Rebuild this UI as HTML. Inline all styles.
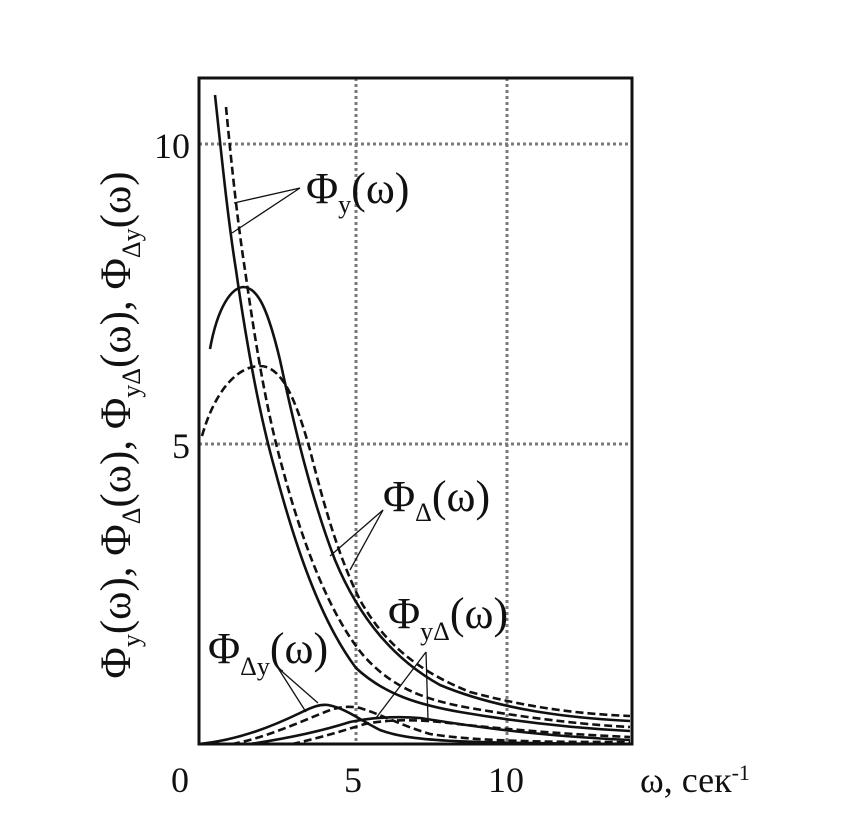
<!DOCTYPE html>
<html><head><meta charset="utf-8"><style>
html,body{margin:0;padding:0;background:#fff;}
svg{display:block;}
text{font-family:"Liberation Serif","DejaVu Serif",serif;fill:#111;}
</style></head><body>
<svg width="847" height="835" viewBox="0 0 847 835" xmlns="http://www.w3.org/2000/svg">
<rect x="0" y="0" width="847" height="835" fill="#fff"/>
<g stroke="#7a7a7a" stroke-width="3" stroke-dasharray="3,3">
<line x1="199" y1="144" x2="632" y2="144"/>
<line x1="199" y1="444" x2="632" y2="444"/>
<line x1="356" y1="78" x2="356" y2="744"/>
<line x1="507" y1="78" x2="507" y2="744"/>
</g>
<rect x="199" y="78" width="433" height="666" fill="none" stroke="#111" stroke-width="3"/>
<g fill="none" stroke="#111" stroke-width="2.6">
<path d="M215,95 C222,160 228,220 236,270 C246,340 258,410 275,470 C295,545 320,620 356,668 C385,695 420,705 460,712 C530,724 590,729 630,731"/>
<path stroke-dasharray="8,4" d="M226,107 C232,170 238,225 245,270 C255,340 266,410 283,470 C303,545 330,615 363,655 C392,688 425,700 470,708 C540,720 590,725 630,727"/>
<path d="M210,349 C218,305 232,288 243,287 C258,287 268,310 280,360 C295,430 312,500 335,560 C360,620 395,660 440,685 C500,710 570,718 630,721"/>
<path stroke-dasharray="8,4" d="M202,436 C215,390 238,366 260,366 C282,366 296,400 310,450 C325,510 340,560 360,600 C385,645 420,672 470,692 C530,708 580,714 630,716"/>
<path d="M199,744 C240,740 275,725 300,713 C312,707 320,704 328,705 C345,708 360,720 380,730 C410,741 450,743 630,744"/>
<path stroke-dasharray="8,4" d="M232,744 C265,738 300,722 325,712 C340,706 350,706 360,708 C380,714 400,725 430,734 C480,742 560,742 630,742"/>
<path d="M250,744 C290,738 325,730 350,722 C370,718 395,716 420,718 C460,724 520,735 630,740"/>
<path stroke-dasharray="8,4" d="M292,744 C320,738 345,730 365,724 C385,720 410,719 440,722 C490,728 560,734 630,737"/>
</g>
<g stroke="#111" stroke-width="1.3">
<line x1="300" y1="188" x2="234" y2="203"/>
<line x1="300" y1="188" x2="232" y2="233"/>
<line x1="383" y1="510" x2="330" y2="556"/>
<line x1="383" y1="510" x2="350" y2="570"/>
<line x1="426" y1="652" x2="376" y2="718"/>
<line x1="426" y1="652" x2="428" y2="720"/>
<line x1="278" y1="668" x2="318" y2="703"/>
<line x1="278" y1="668" x2="306" y2="712"/>
</g>
<text x="306" y="203" font-size="44">Φ<tspan font-size="26" dy="10">y</tspan><tspan dy="-10">(ω)</tspan></text>
<text x="383" y="511" font-size="44">Φ<tspan font-size="26" dy="10">Δ</tspan><tspan dy="-10">(ω)</tspan></text>
<text x="388" y="628" font-size="44">Φ<tspan font-size="26" dy="12">yΔ</tspan><tspan dy="-12">(ω)</tspan></text>
<text x="208" y="663" font-size="44">Φ<tspan font-size="26" dy="12">Δy</tspan><tspan dy="-12">(ω)</tspan></text>
<text x="190" y="158" font-size="36" text-anchor="end">10</text>
<text x="190" y="458" font-size="36" text-anchor="end">5</text>
<text x="180" y="792" font-size="36" text-anchor="middle">0</text>
<text x="353" y="792" font-size="36" text-anchor="middle">5</text>
<text x="506" y="792" font-size="36" text-anchor="middle">10</text>
<text x="640" y="792" font-size="36">ω, сек<tspan font-size="22" dy="-12">-1</tspan></text>
<text transform="translate(130,425) rotate(-90)" font-size="43" text-anchor="middle">Φ<tspan font-size="26" dy="10">y</tspan><tspan dy="-10">(ω), Φ</tspan><tspan font-size="26" dy="10">Δ</tspan><tspan dy="-10">(ω), Φ</tspan><tspan font-size="26" dy="10">yΔ</tspan><tspan dy="-10">(ω), Φ</tspan><tspan font-size="26" dy="10">Δy</tspan><tspan dy="-10">(ω)</tspan></text>
</svg>
</body></html>
